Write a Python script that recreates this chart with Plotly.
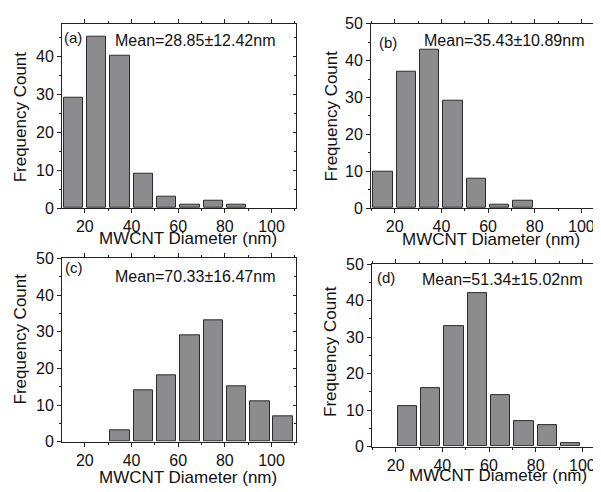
import plotly.graph_objects as go

# ---- data ----
bin_left = [10, 20, 30, 40, 50, 60, 70, 80, 90, 100]
bin_width = 10
counts_a = [29, 45, 40, 9, 3, 1, 2, 1, 0, 0]
counts_b = [10, 37, 43, 29, 8, 1, 2, 0, 0, 0]
counts_c = [0, 0, 3, 14, 18, 29, 33, 15, 11, 7]
counts_d = [0, 11, 16, 33, 42, 14, 7, 6, 1, 0]
panel_labels = ["(a)", "(b)", "(c)", "(d)"]
mean_labels = ["Mean=28.85±12.42nm", "Mean=35.43±10.89nm",
               "Mean=70.33±16.47nm", "Mean=51.34±15.02nm"]
x_title = "MWCNT Diameter (nm)"
y_title = "Frequency Count"

W, H = 601, 492
OFF = 8  # default page body margin in the browser
def PX(p): return (p - OFF) / W
def PY(p): return 1 - (p - OFF) / H

FONT = "Liberation Sans, Arial, Helvetica, sans-serif"
BAR_FILL = "#8c8c8e"
BAR_LINE = "#2b2b2b"

centers = [b + bin_width / 2 for b in bin_left]

# panel geometry in page pixels: (left, right, top, bottom)
geo = [(62, 296, 16, 207), (371, 601, 16, 207), (62, 296, 259, 449), (372, 601, 265, 454)]
xranges = [[10.2, 110.5], [9.85, 108.4], [10.2, 110.5], [9.85, 108.0]]
yranges = [[0, 48.5], [0, 50], [0, 50], [0, 50]]
all_counts = [counts_a, counts_b, counts_c, counts_d]

fig = go.Figure()
layout = dict(width=W, height=H, margin=dict(l=0, r=0, t=0, b=0),
              paper_bgcolor="white", plot_bgcolor="white", showlegend=False,
              font=dict(family=FONT, size=16, color="#111"), bargap=0)

for i, cnts in enumerate(all_counts):
    n = i + 1
    xa = "x" if n == 1 else f"x{n}"
    ya = "y" if n == 1 else f"y{n}"
    yvals = [c if c > 0 else None for c in cnts]
    fig.add_trace(go.Bar(x=centers, y=yvals, width=[8.3] * len(centers), xaxis=xa, yaxis=ya,
                         marker=dict(color=BAR_FILL, line=dict(color=BAR_LINE, width=1))))
    l, r, t, b = geo[i]
    layout[f"xaxis{'' if n == 1 else n}"] = dict(
        domain=[PX(l), PX(r)], anchor=ya, range=xranges[i],
        tick0=0, dtick=20, ticks="outside", ticklen=4, tickwidth=1, tickcolor="#222",
        showline=True, linecolor="#222", linewidth=1, mirror="ticks",
        showgrid=False, zeroline=False, tickfont=dict(size=16),
        minor=dict(dtick=10, tick0=0, ticks="outside", ticklen=2, tickcolor="#222", showgrid=False))
    layout[f"yaxis{'' if n == 1 else n}"] = dict(
        domain=[PY(b), PY(t)], anchor=xa, range=yranges[i],
        tick0=0, dtick=10, ticks="outside", ticklen=4, tickwidth=1, tickcolor="#222",
        showline=True, linecolor="#222", linewidth=1, mirror=False,
        showgrid=False, zeroline=False, tickfont=dict(size=16),
        minor=dict(dtick=5, tick0=0, ticks="outside", ticklen=2, tickcolor="#222", showgrid=False))

# right-side inside-tick axes for left panels (a) and (c)
for i, n_over in [(0, 5), (2, 6)]:
    n = i + 1
    xa = "x" if n == 1 else f"x{n}"
    ya = "y" if n == 1 else f"y{n}"
    fig.add_trace(go.Scatter(x=[None], y=[None], xaxis=xa, yaxis=f"y{n_over}", hoverinfo="skip"))
    layout[f"yaxis{n_over}"] = dict(
        overlaying=ya, side="right", anchor=xa, range=yranges[i],
        tick0=0, dtick=10, ticks="inside", ticklen=3, tickcolor="#222",
        showticklabels=False, showline=True, linecolor="#222", linewidth=1,
        showgrid=False, zeroline=False,
        minor=dict(dtick=5, tick0=0, ticks="inside", ticklen=2, tickcolor="#222", showgrid=False))

anns = []
def ann(text, x, y, size, xanchor="center", angle=0):
    anns.append(dict(text=text, x=PX(x), y=PY(y), xref="paper", yref="paper",
                     xanchor=xanchor, yanchor="middle", showarrow=False, textangle=angle,
                     font=dict(family=FONT, size=size, color="#111")))

# x titles
for (cx, cy) in [(188, 238), (491, 240), (188, 486), (498, 484)]:
    ann(x_title, cx, cy, 17)
# y titles
for (cx, cy) in [(20, 113), (331, 112), (20, 343), (331, 356)]:
    ann(y_title, cx, cy, 17, angle=-90)
# panel labels
for lab, (x, y) in zip(panel_labels, [(62, 30), (377, 35), (63, 268), (375, 279)]):
    ann(lab, x, y, 15, xanchor="left")
for lab, (x, y) in zip(mean_labels, [(113, 33), (422, 33), (113, 278), (420, 281)]):
    ann(lab, x, y, 16, xanchor="left")

layout["annotations"] = anns
fig.update_layout(**layout)
fig.write_html("out.html")
